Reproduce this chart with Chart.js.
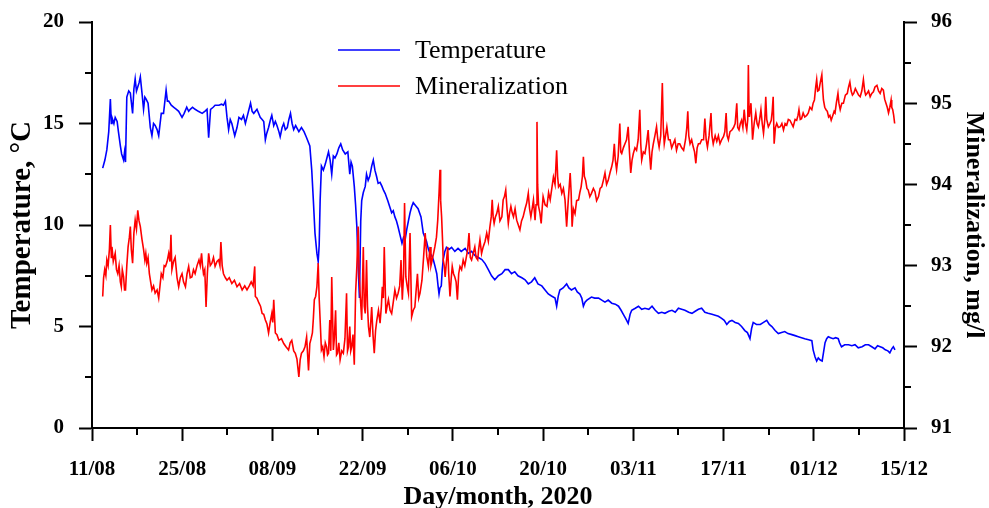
<!DOCTYPE html>
<html><head><meta charset="utf-8">
<script src="https://cdn.jsdelivr.net/npm/chart.js@4/dist/chart.umd.min.js"></script>
<style>html,body{margin:0;padding:0;background:#fff}#wrap{width:989px;height:508px;position:relative}</style>
</head><body><div id="wrap"><canvas id="c"></canvas></div>
<script>
// x values are days since 11/08/2020
const xTickLabels = ['11/08','25/08','08/09','22/09','06/10','20/10','03/11','17/11','01/12','15/12'];
const seriesNames = ['Temperature','Mineralization'];

const tempDays = [1.66,2.0,2.3,2.6,2.85,3.0,3.1,3.4,3.6,3.9,4.1,4.4,4.6,4.9,5.05,5.2,5.4,5.7,5.95,6.3,6.5,6.7,6.9,7.1,7.3,7.5,7.76,8.0,8.2,8.4,8.7,9.05,9.3,9.55,9.8,10.1,10.35,10.75,11.1,11.5,11.7,11.9,12.3,12.7,13.1,13.45,13.97,14.3,14.7,15.0,15.25,15.6,16.0,16.5,17.1,17.5,17.85,18.1,18.4,18.8,19.1,19.7,20.1,20.4,20.7,20.95,21.2,21.45,21.7,22.15,22.5,22.8,23.2,23.5,23.8,24.2,24.6,24.85,25.1,25.6,26.1,26.4,26.65,26.9,27.1,27.4,27.7,27.9,28.2,28.45,28.7,29.0,29.2,29.5,29.75,30.0,30.3,30.55,30.8,31.05,31.3,31.6,32.1,32.5,32.9,33.3,33.8,34.1,34.35,34.6,34.9,35.1,35.25,35.4,35.6,35.9,36.2,36.45,36.7,36.95,37.2,37.45,37.7,38.0,38.3,38.6,38.9,39.3,39.7,40.0,40.2,40.4,40.7,40.9,41.1,41.3,41.5,41.7,41.85,42.1,42.4,42.6,42.85,43.1,43.4,43.65,43.9,44.15,44.4,44.7,45.0,45.25,45.5,45.9,46.2,46.5,46.75,47.0,47.25,47.5,47.8,48.1,48.35,48.6,48.85,49.1,49.35,49.6,49.85,50.1,50.35,50.6,51.05,51.4,51.65,51.9,52.2,52.45,52.7,52.95,53.2,53.5,53.7,53.85,54.0,54.2,54.35,54.5,54.75,55.0,55.4,55.8,56.3,56.8,57.3,57.9,58.4,58.9,59.4,59.95,60.5,61.0,61.5,62.0,62.5,63.05,63.6,64.1,64.6,65.1,65.6,66.1,66.7,67.2,67.7,68.2,68.7,69.2,69.8,70.3,70.8,71.3,71.85,72.1,72.35,72.6,73.1,73.65,74.0,74.4,74.95,75.3,75.7,76.0,76.25,76.5,76.8,77.5,78.0,78.6,79.1,79.6,80.1,80.65,81.2,81.7,82.1,82.45,82.8,83.2,83.5,83.75,84.3,84.8,85.3,85.8,86.4,86.9,87.4,87.9,88.4,88.9,89.5,90.0,90.5,91.0,91.5,92.0,92.6,93.1,93.6,94.1,94.6,95.1,95.6,96.2,96.7,97.2,97.7,98.1,98.5,98.9,99.3,99.8,100.3,100.8,101.3,101.7,102.1,102.35,102.6,103.1,103.7,104.2,104.7,105.1,105.5,106.0,106.5,107.0,107.5,108.0,108.6,109.1,109.6,110.1,110.6,111.2,111.7,111.9,112.2,112.45,112.7,113.0,113.3,113.55,113.75,114.0,114.25,114.6,115.0,115.4,115.8,116.0,116.3,116.8,117.4,117.9,118.4,118.9,119.5,120.0,120.5,121.0,121.5,121.9,122.3,122.7,123.1,123.5,123.8,124.1,124.35,124.6];
const tempValues = [12.8,13.2,13.7,14.6,16.2,15.0,15.3,15.0,15.3,15.1,14.6,13.9,13.5,13.2,13.6,13.1,16.3,16.6,16.5,15.5,16.7,17.2,16.6,16.8,17.0,17.3,16.5,15.7,16.3,16.2,16.0,14.8,14.4,15.0,14.9,14.7,14.4,15.5,15.5,16.65,16.1,16.1,15.9,15.8,15.7,15.6,15.3,15.5,15.8,15.6,15.7,15.8,15.7,15.6,15.5,15.6,15.7,14.3,15.7,15.8,15.9,15.9,15.95,15.9,16.1,15.3,14.7,15.2,15.0,14.4,14.8,15.3,15.2,15.4,15.0,15.5,16.0,15.6,15.5,15.7,15.3,15.2,15.1,14.2,14.5,14.8,15.2,15.4,14.9,15.1,14.9,14.6,14.35,14.8,15.0,14.7,14.8,15.2,15.5,15.0,14.7,14.9,14.6,14.8,14.6,14.3,13.9,12.7,11.2,9.6,8.6,8.2,9.0,11.2,12.9,12.7,13.0,13.3,13.6,13.2,12.5,13.4,13.3,13.5,13.8,14.0,13.7,13.5,13.6,12.5,13.1,12.9,11.9,11.0,9.9,7.95,6.4,10.2,11.2,11.6,11.9,12.5,12.2,12.4,12.9,13.2,12.7,12.4,12.05,12.1,11.9,11.7,11.55,11.2,10.9,10.6,10.7,10.4,10.2,9.9,9.5,9.1,9.4,9.3,9.8,10.2,10.6,10.9,11.1,11.0,10.9,10.8,10.4,9.6,9.4,9.2,8.8,8.6,8.5,8.3,8.0,7.6,7.0,6.6,6.9,7.0,7.8,8.3,8.7,8.9,8.8,8.9,8.7,8.85,8.7,8.85,8.6,8.7,8.5,8.4,8.3,8.1,7.8,7.5,7.3,7.5,7.6,7.8,7.8,7.6,7.7,7.5,7.4,7.3,7.1,7.2,7.4,7.1,7.0,6.8,6.6,6.5,6.4,6.0,6.5,6.8,6.9,7.1,6.9,6.8,6.9,6.7,6.6,6.4,6.0,6.2,6.3,6.45,6.4,6.4,6.3,6.2,6.3,6.15,6.1,6.0,5.8,5.6,5.4,5.15,5.6,5.8,5.9,6.0,5.85,5.9,5.85,6.0,5.8,5.65,5.7,5.65,5.75,5.8,5.7,5.9,5.85,5.8,5.7,5.65,5.75,5.85,5.9,5.7,5.65,5.6,5.55,5.5,5.4,5.3,5.1,5.25,5.3,5.2,5.15,5.0,4.8,4.7,4.4,4.9,5.2,5.1,5.1,5.2,5.3,5.1,5.0,4.8,4.65,4.7,4.75,4.65,4.6,4.55,4.5,4.45,4.4,4.35,4.3,3.85,3.5,3.3,3.45,3.35,3.3,3.8,4.2,4.4,4.5,4.45,4.4,4.45,4.4,4.2,4.0,4.1,4.1,4.05,4.1,3.95,4.0,4.1,4.1,4.0,3.9,4.05,4.0,3.95,3.85,3.8,3.7,3.9,4.0,3.85];

const minDays = [1.66,1.8,1.97,2.15,2.3,2.5,2.7,2.85,3.0,3.1,3.3,3.6,3.8,4.0,4.2,4.4,4.55,4.7,4.9,5.05,5.2,5.4,5.6,5.8,5.95,6.1,6.3,6.5,6.7,6.9,7.1,7.3,7.5,7.76,8.0,8.2,8.35,8.5,8.7,8.9,9.1,9.3,9.55,9.8,10.1,10.35,10.55,10.75,11.0,11.2,11.4,11.65,11.9,12.1,12.25,12.4,12.65,12.9,13.2,13.45,13.7,13.97,14.2,14.5,14.75,15.0,15.25,15.5,15.75,16.0,16.3,16.6,16.8,17.0,17.15,17.3,17.5,17.7,17.9,18.1,18.35,18.6,18.85,19.1,19.4,19.65,19.85,20.0,20.2,20.4,20.7,20.95,21.3,21.7,22.1,22.5,22.9,23.3,23.7,24.05,24.4,24.7,25.0,25.25,25.35,25.6,25.9,26.15,26.4,26.65,26.9,27.15,27.4,27.65,27.9,28.05,28.2,28.45,28.7,29.0,29.4,29.75,30.1,30.5,30.75,31.0,31.3,31.55,31.8,32.1,32.3,32.5,32.8,33.05,33.3,33.6,33.8,34.0,34.2,34.35,34.5,34.7,34.9,35.1,35.25,35.4,35.6,35.8,36.0,36.2,36.4,36.55,36.7,36.9,37.05,37.2,37.45,37.6,37.8,37.95,38.1,38.3,38.5,38.75,39.0,39.25,39.5,39.65,39.8,40.0,40.15,40.3,40.5,40.7,40.9,41.1,41.3,41.45,41.6,41.85,42.1,42.25,42.4,42.6,42.75,42.9,43.1,43.25,43.4,43.6,43.8,44.0,44.2,44.45,44.7,44.9,45.05,45.2,45.35,45.6,45.8,46.0,46.25,46.5,46.75,47.0,47.25,47.5,47.75,47.95,48.15,48.35,48.5,48.7,48.9,49.1,49.35,49.6,49.85,50.1,50.3,50.5,50.7,50.9,51.2,51.45,51.7,51.95,52.2,52.45,52.6,52.8,53.0,53.2,53.45,53.65,53.85,54.0,54.1,54.25,54.4,54.5,54.65,54.8,55.0,55.2,55.35,55.55,55.75,55.9,56.1,56.3,56.5,56.7,56.9,57.1,57.35,57.6,57.85,58.1,58.3,58.5,58.7,58.9,59.15,59.4,59.6,59.85,60.0,60.2,60.45,60.7,61.0,61.25,61.5,61.75,61.95,62.1,62.25,62.4,62.6,62.8,63.05,63.3,63.6,63.8,64.0,64.2,64.4,64.6,64.8,65.0,65.2,65.4,65.65,65.9,66.15,66.4,66.65,66.9,67.2,67.45,67.7,67.9,68.1,68.3,68.5,68.75,68.9,69.05,69.15,69.3,69.5,69.7,69.85,70.0,70.3,70.6,70.85,71.1,71.35,71.6,71.85,72.1,72.25,72.4,72.65,72.9,73.15,73.4,73.65,73.9,74.2,74.35,74.5,74.7,74.95,75.2,75.5,75.7,75.9,76.1,76.25,76.4,76.6,76.8,77.0,77.25,77.5,77.8,78.05,78.3,78.6,78.85,79.1,79.35,79.6,79.85,80.1,80.4,80.65,80.85,81.05,81.2,81.4,81.65,81.9,82.05,82.2,82.45,82.7,82.95,83.2,83.4,83.6,83.8,84.0,84.25,84.5,84.75,85.0,85.15,85.3,85.55,85.8,86.05,86.3,86.5,86.7,86.9,87.1,87.35,87.6,87.8,88.0,88.25,88.5,88.65,88.8,89.0,89.2,89.45,89.7,89.95,90.2,90.45,90.7,90.95,91.2,91.5,91.8,92.1,92.3,92.45,92.6,92.8,93.05,93.3,93.5,93.7,93.9,94.1,94.35,94.6,94.9,95.1,95.3,95.5,95.75,96.05,96.2,96.4,96.7,96.95,97.2,97.45,97.7,98.0,98.2,98.4,98.55,98.75,99.0,99.3,99.55,99.8,100.05,100.2,100.4,100.6,100.8,101.0,101.2,101.4,101.6,101.75,101.85,101.95,102.0,102.25,102.4,102.5,102.75,103.0,103.2,103.4,103.6,103.8,104.0,104.2,104.4,104.55,104.7,104.95,105.2,105.4,105.55,105.7,105.85,106.05,106.25,106.5,106.8,107.05,107.3,107.55,107.8,108.05,108.3,108.55,108.8,109.1,109.35,109.55,109.7,109.9,110.1,110.35,110.6,110.9,111.15,111.4,111.7,111.9,112.1,112.3,112.45,112.6,112.8,113.0,113.25,113.4,113.5,113.7,113.9,114.1,114.3,114.5,114.7,114.95,115.15,115.3,115.5,115.75,115.9,116.1,116.35,116.6,116.9,117.2,117.4,117.6,117.8,118.0,118.2,118.45,118.7,118.95,119.2,119.45,119.7,119.9,120.05,120.25,120.5,120.75,121.0,121.25,121.5,121.8,122.05,122.3,122.55,122.8,123.0,123.2,123.4,123.6,123.8,124.0,124.1,124.25,124.4,124.55];
const minValues = [92.62,92.85,92.95,92.88,93.07,93.0,93.2,93.5,93.1,93.23,93.05,93.15,92.95,92.9,93.0,92.8,92.74,92.95,92.86,92.7,92.7,93.0,93.23,93.35,93.48,93.2,93.03,93.4,93.56,93.45,93.68,93.55,93.48,93.32,93.2,93.07,93.15,93.03,93.1,92.9,92.8,92.7,92.75,92.66,92.7,92.6,92.75,92.9,92.85,93.0,92.99,93.05,93.15,93.05,93.38,92.95,93.05,93.1,92.85,92.74,92.85,92.9,92.8,92.74,92.9,92.99,92.85,92.86,92.95,92.9,93.0,93.07,93.0,93.15,93.0,92.9,92.95,92.49,92.9,93.15,93.0,93.03,93.1,92.99,93.05,93.07,93.0,93.29,93.0,92.9,92.85,92.82,92.85,92.78,92.82,92.74,92.78,92.7,92.75,92.7,92.75,92.8,92.75,92.99,92.62,92.6,92.54,92.5,92.41,92.4,92.33,92.28,92.17,92.3,92.41,92.3,92.58,92.17,92.15,92.08,92.1,92.04,92.0,91.96,92.05,92.08,91.95,91.92,91.85,91.63,91.84,91.92,91.95,92.0,92.12,91.71,92.04,92.1,92.17,92.35,92.58,92.62,92.74,93.03,92.6,92.33,91.96,92.0,91.88,92.05,92.0,91.9,91.92,92.33,91.95,92.86,91.96,92.1,92.45,91.9,91.92,92.05,91.84,91.95,91.92,92.1,92.66,91.95,92.0,92.25,91.95,92.0,92.15,91.78,92.66,92.99,93.48,92.9,92.66,92.33,93.23,92.5,92.41,93.07,92.5,92.25,92.12,92.3,92.49,92.15,91.92,92.2,92.33,92.45,92.29,92.5,92.74,92.6,93.23,92.41,92.5,92.58,92.45,92.41,92.55,92.7,92.6,92.66,92.75,93.07,92.58,92.9,93.77,92.86,92.75,92.66,93.4,92.37,92.45,92.49,92.7,92.9,92.6,92.66,92.82,93.1,93.4,93.11,92.99,93.23,93.0,93.07,93.15,93.23,93.35,93.56,93.89,94.18,93.8,93.6,93.3,93.07,93.0,92.86,93.05,93.23,92.9,92.62,92.85,92.99,92.9,92.86,92.8,92.58,92.9,92.99,92.95,93.07,93.0,93.11,93.2,93.4,93.1,93.07,93.15,93.23,93.1,93.07,93.2,93.32,93.15,93.23,93.3,93.4,93.3,93.48,93.6,93.81,93.6,93.52,93.6,93.64,93.73,93.55,93.6,93.81,93.85,93.93,93.7,93.52,93.65,93.73,93.65,93.6,93.7,93.56,93.5,93.44,93.55,93.6,93.7,93.77,93.89,93.7,93.6,93.7,93.81,93.56,93.75,94.77,94.0,93.73,93.65,93.52,93.7,93.85,93.75,93.73,93.9,93.81,93.95,94.09,94.0,94.42,94.1,93.97,94.0,93.89,93.95,93.81,93.48,93.8,94.14,93.9,93.48,93.7,93.64,93.8,93.81,93.9,93.97,94.1,94.34,94.1,94.05,93.95,93.93,93.85,93.89,93.95,93.91,93.8,93.85,93.95,93.97,94.05,94.14,94.0,94.05,94.15,94.22,94.3,94.5,94.3,94.18,94.35,94.75,94.4,94.38,94.45,94.5,94.55,94.71,94.4,94.14,94.3,94.38,94.45,94.42,94.55,94.92,94.5,94.3,94.4,94.38,94.5,94.67,94.4,94.18,94.4,94.5,94.6,94.71,94.55,94.46,94.6,95.25,94.7,94.5,94.6,94.71,94.55,94.55,94.45,94.5,94.55,94.42,94.5,94.5,94.45,94.42,94.55,94.7,94.9,94.6,94.5,94.55,94.46,94.4,94.26,94.45,94.5,94.5,94.55,94.55,94.81,94.55,94.46,94.6,94.88,94.6,94.5,94.6,94.53,94.6,94.5,94.55,94.59,94.65,94.88,94.6,94.55,94.65,94.67,94.7,94.75,95.0,94.7,94.67,94.75,94.79,94.7,94.92,94.75,94.67,94.8,95.47,94.9,94.83,95.0,94.75,94.55,94.75,94.88,94.75,94.71,94.8,94.92,94.75,94.63,94.8,95.08,94.8,94.71,94.75,94.79,94.9,95.08,94.5,94.7,94.75,94.7,94.71,94.75,94.67,94.75,94.73,94.8,94.79,94.75,94.71,94.8,94.79,94.85,94.92,94.8,94.81,94.88,94.83,94.85,94.88,94.95,94.92,95.0,95.04,95.2,95.29,95.15,95.16,95.25,95.35,95.15,95.04,94.95,94.92,94.9,94.83,94.85,94.79,94.85,94.9,94.88,95.0,95.12,95.0,94.92,95.0,95.0,95.1,95.12,95.2,95.26,95.15,95.1,95.12,95.18,95.14,95.1,95.08,95.15,95.29,95.15,95.1,95.12,95.15,95.08,95.12,95.14,95.2,95.22,95.15,95.12,95.18,95.16,95.05,95.0,94.95,94.88,94.95,95.04,94.95,94.92,94.85,94.75];

const toPoints = (xs, ys) => xs.map((x, i) => ({x, y: ys[i]}));

const minorTicks = {
  id: 'minorTicks',
  afterDraw(chart) {
    const ctx = chart.ctx;
    ctx.save();
    ctx.strokeStyle = '#000';
    ctx.lineWidth = 2;
    const len = 7;
    ['x','y','y1'].forEach(id => {
      const s = chart.scales[id];
      const t = s.ticks;
      for (let i = 0; i < t.length - 1; i++) {
        const v = (t[i].value + t[i+1].value) / 2;
        const p = Math.round(s.getPixelForValue(v));
        ctx.beginPath();
        if (id === 'x') { ctx.moveTo(p, s.top); ctx.lineTo(p, s.top + len); }
        else if (id === 'y') { ctx.moveTo(s.right, p); ctx.lineTo(s.right - len, p); }
        else { ctx.moveTo(s.left, p); ctx.lineTo(s.left + len, p); }
        ctx.stroke();
      }
    });
    ctx.restore();
  }
};

const insideLegend = {
  id: 'insideLegend',
  afterDraw(chart, args, o) {
    const ctx = chart.ctx;
    ctx.save();
    ctx.font = o.font;
    ctx.textBaseline = 'middle';
    ctx.textAlign = 'left';
    [0, 1].forEach((di, k) => {
      const ds = chart.data.datasets[di];
      const y = o.y0 + k * o.dy;
      ctx.strokeStyle = ds.borderColor;
      ctx.lineWidth = 1.5;
      ctx.beginPath(); ctx.moveTo(o.x0, y); ctx.lineTo(o.x1, y); ctx.stroke();
      ctx.fillStyle = '#000';
      ctx.fillText(ds.label, o.tx, y + 1);
    });
    ctx.restore();
  }
};

const tickFont = {family: '"Liberation Serif", "Times New Roman", serif', size: 21, weight: 'bold'};
const titleFont = {family: '"Liberation Serif", "Times New Roman", serif', size: 26, weight: 'bold'};
const leftTitleFont = {family: '"Liberation Serif", "Times New Roman", serif', size: 29, weight: 'bold'};
const gridOpts = {drawOnChartArea: false, tickLength: 13, tickWidth: 2, tickColor: '#000'};

new Chart(document.getElementById('c'), {
  type: 'line',
  data: {
    datasets: [
      {label: seriesNames[0], data: toPoints(tempDays, tempValues), yAxisID: 'y', borderColor: '#0000ff', borderWidth: 1.6, pointRadius: 0, tension: 0, order: 1},
      {label: seriesNames[1], data: toPoints(minDays, minValues), yAxisID: 'y1', borderColor: '#ff0000', borderWidth: 1.6, pointRadius: 0, tension: 0, order: 0}
    ]
  },
  options: {
    responsive: true,
    maintainAspectRatio: false,
    animation: false,
    devicePixelRatio: 1,
    layout: {padding: {top: 22, left: 0, right: 0, bottom: 0}},
    plugins: {
      legend: {display: false},
      tooltip: {enabled: false},
      insideLegend: {x0: 338, x1: 400, tx: 415, y0: 50, dy: 36, font: '26px "Liberation Serif", "Times New Roman", serif'}
    },
    scales: {
      x: {
        type: 'linear', position: 'bottom', min: 0, max: 126,
        afterFit(s) { s.height = 80; },
        border: {display: true, color: '#000', width: 2},
        grid: gridOpts,
        ticks: {stepSize: 14, color: '#000', font: tickFont, padding: 16, maxRotation: 0, autoSkip: false,
          callback: (v) => xTickLabels[Math.round(v / 14)] ?? ''},
        title: {display: true, text: 'Day/month, 2020', color: '#000', font: titleFont, padding: {top: 0, bottom: -5}}
      },
      y: {
        type: 'linear', position: 'left', min: 0, max: 20,
        afterFit(s) { s.width = 92; s.paddingTop = 0; s.paddingBottom = 0; },
        border: {display: true, color: '#000', width: 2},
        grid: gridOpts,
        ticks: {stepSize: 5, color: '#000', font: tickFont, padding: 15},
        title: {display: true, text: 'Temperature, °C', color: '#000', font: leftTitleFont, padding: {top: 5, bottom: 0}}
      },
      y1: {
        type: 'linear', position: 'right', min: 91, max: 96,
        afterFit(s) { s.width = 85; s.paddingTop = 0; s.paddingBottom = 0; },
        border: {display: true, color: '#000', width: 2},
        grid: gridOpts,
        ticks: {stepSize: 1, color: '#000', font: tickFont, padding: 14},
        title: {display: true, text: 'Mineralization, mg/l', color: '#000', font: titleFont, padding: {top: 0, bottom: 0}}
      }
    }
  },
  plugins: [minorTicks, insideLegend]
});
</script>
</body></html>
